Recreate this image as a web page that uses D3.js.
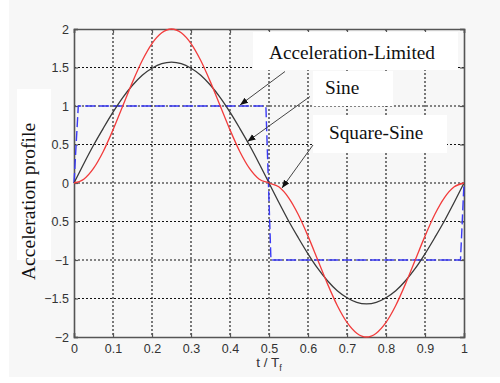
<!DOCTYPE html>
<html>
<head>
<meta charset="utf-8">
<script src="https://cdn.jsdelivr.net/npm/d3@7"></script>
<style>
  body { margin: 0; background: #fff; }
  svg { display: block; }
</style>
</head>
<body>
<svg id="chart"></svg>
<script>
// sample times (t / Tf)
const tSamples = [0, 0.025, 0.05, 0.075, 0.1, 0.125, 0.15, 0.175, 0.2, 0.225, 0.25,
  0.275, 0.3, 0.325, 0.35, 0.375, 0.4, 0.425, 0.45, 0.475, 0.5,
  0.525, 0.55, 0.575, 0.6, 0.625, 0.65, 0.675, 0.7, 0.725, 0.75,
  0.775, 0.8, 0.825, 0.85, 0.875, 0.9, 0.925, 0.95, 0.975, 1];
// sine profile (black)
const sineVals = [0, 0.25, 0.49, 0.71, 0.92, 1.11, 1.27, 1.40, 1.49, 1.55, 1.57,
  1.55, 1.49, 1.40, 1.27, 1.11, 0.92, 0.71, 0.49, 0.25, 0,
  -0.25, -0.49, -0.71, -0.92, -1.11, -1.27, -1.40, -1.49, -1.55, -1.57,
  -1.55, -1.49, -1.40, -1.27, -1.11, -0.92, -0.71, -0.49, -0.25, 0];
// square-sine profile (red)
const sqSineVals = [0, 0.05, 0.19, 0.41, 0.69, 1.00, 1.31, 1.59, 1.81, 1.95, 2.00,
  1.95, 1.81, 1.59, 1.31, 1.00, 0.69, 0.41, 0.19, 0.05, 0,
  -0.05, -0.19, -0.41, -0.69, -1.00, -1.31, -1.59, -1.81, -1.95, -2.00,
  -1.95, -1.81, -1.59, -1.31, -1.00, -0.69, -0.41, -0.19, -0.05, 0];
// acceleration-limited profile (blue dashed)
const accLimT = [0, 0.011, 0.492, 0.505, 0.991, 1];
const accLimVals = [0, 1, 1, -1, -1, 0];

const xTicks = [0, 0.1, 0.2, 0.3, 0.4, 0.5, 0.6, 0.7, 0.8, 0.9, 1];
const yTicks = [-2, -1.5, -1, -0.5, 0, 0.5, 1, 1.5, 2];

const W = 500, H = 383;
const svg = d3.select("#chart").attr("width", W).attr("height", H);

// figure background (light grey, white strip left / bottom)
svg.append("rect").attr("x", 9).attr("y", 0).attr("width", W - 9).attr("height", 377)
  .attr("fill", "#f7f7f7");

const x = d3.scaleLinear().domain([0, 1]).range([74, 464]);
const y = d3.scaleLinear().domain([-2, 2]).range([337, 29]);

// grid
const grid = svg.append("g")
  .attr("stroke", "#111")
  .attr("stroke-width", 1.1)
  .attr("stroke-dasharray", "2,2");
grid.selectAll("line.gx").data(xTicks.slice(1, -1)).join("line")
  .attr("x1", d => x(d)).attr("x2", d => x(d))
  .attr("y1", y(2)).attr("y2", y(-2));
grid.selectAll("line.gy").data(yTicks.slice(1, -1)).join("line")
  .attr("x1", x(0)).attr("x2", x(1))
  .attr("y1", d => y(d)).attr("y2", d => y(d));

// axes (matlab style, ticks pointing in)
const axisColor = "#555";
const xAxis = svg.append("g").attr("transform", `translate(0,${y(-2)})`)
  .call(d3.axisBottom(x).tickValues(xTicks).tickSize(-4).tickPadding(7)
    .tickFormat(d3.format("")));
const xAxisTop = svg.append("g").attr("transform", `translate(0,${y(2)})`)
  .call(d3.axisTop(x).tickValues(xTicks).tickSize(-4).tickFormat(""));
const yAxis = svg.append("g").attr("transform", `translate(${x(0)},0)`)
  .call(d3.axisLeft(y).tickValues(yTicks).tickSize(-4).tickPadding(5)
    .tickFormat(d3.format("")));
const yAxisRight = svg.append("g").attr("transform", `translate(${x(1)},0)`)
  .call(d3.axisRight(y).tickValues(yTicks).tickSize(-4).tickFormat(""));

[xAxis, xAxisTop, yAxis, yAxisRight].forEach(g => {
  g.select(".domain").attr("stroke", axisColor).attr("stroke-width", 1.6);
  g.selectAll(".tick line").attr("stroke", axisColor).attr("stroke-width", 1.2);
  g.selectAll(".tick text")
    .attr("fill", "#333")
    .attr("font-family", "Liberation Sans, Arial, sans-serif")
    .attr("font-size", 12.5);
});

// curves
const line = d3.line().x(d => x(d[0])).y(d => y(d[1])).curve(d3.curveMonotoneX);

svg.append("path")
  .datum(accLimT.map((t, i) => [t, accLimVals[i]]))
  .attr("d", d3.line().x(d => x(d[0])).y(d => y(d[1])))
  .attr("fill", "none")
  .attr("stroke", "#3a3af5")
  .attr("stroke-width", 1.4)
  .attr("stroke-dasharray", "10,4");

svg.append("path")
  .datum(tSamples.map((t, i) => [t, sineVals[i]]))
  .attr("d", line)
  .attr("fill", "none")
  .attr("stroke", "#3a3a3a")
  .attr("stroke-width", 1.3);

svg.append("path")
  .datum(tSamples.map((t, i) => [t, sqSineVals[i]]))
  .attr("d", line)
  .attr("fill", "none")
  .attr("stroke", "#f23c3c")
  .attr("stroke-width", 1.3);

// annotations
const serif = "Liberation Serif, Times New Roman, serif";
const boxes = [
  { x0: 253, y0: 32, x1: 458, y1: 70, label: "Acceleration-Limited", tx: 269, ty: 59 },
  { x0: 313, y0: 71, x1: 393, y1: 106, label: "Sine", tx: 325, ty: 94 },
  { x0: 313, y0: 115, x1: 447, y1: 153, label: "Square-Sine", tx: 329, ty: 139 }
];
const ann = svg.append("g");
ann.selectAll("rect").data(boxes).join("rect")
  .attr("x", d => d.x0).attr("y", d => d.y0)
  .attr("width", d => d.x1 - d.x0).attr("height", d => d.y1 - d.y0)
  .attr("fill", "#fff");
ann.selectAll("text").data(boxes).join("text")
  .attr("x", d => d.tx).attr("y", d => d.ty)
  .attr("font-family", serif)
  .attr("font-size", 19.3)
  .attr("fill", "#111")
  .text(d => d.label);

svg.append("defs").append("marker")
  .attr("id", "arrow")
  .attr("viewBox", "0 0 10 10")
  .attr("refX", 10).attr("refY", 5)
  .attr("markerWidth", 8).attr("markerHeight", 8)
  .attr("markerUnits", "userSpaceOnUse")
  .attr("orient", "auto")
  .append("path").attr("d", "M0,1 L10,5 L0,9 Z").attr("fill", "#111");

const arrows = [
  [285, 71.5, 240, 105],
  [310, 96.5, 247.5, 141.5],
  [313, 145, 282, 188]
];
svg.append("g").selectAll("line").data(arrows).join("line")
  .attr("x1", d => d[0]).attr("y1", d => d[1])
  .attr("x2", d => d[2]).attr("y2", d => d[3])
  .attr("stroke", "#444").attr("stroke-width", 1)
  .attr("marker-end", "url(#arrow)");

// y label with white box
svg.append("rect").attr("x", 17).attr("y", 89).attr("width", 34).attr("height", 171)
  .attr("fill", "#fff");
svg.append("text")
  .attr("transform", "translate(35,201.5) rotate(-90)")
  .attr("text-anchor", "middle")
  .attr("font-family", serif)
  .attr("font-size", 19.6)
  .attr("fill", "#111")
  .text("Acceleration profile");

// x label
const xl = svg.append("text")
  .attr("x", x(0.5)).attr("y", 367)
  .attr("text-anchor", "middle")
  .attr("font-family", "Liberation Sans, Arial, sans-serif")
  .attr("font-size", 13.5)
  .attr("fill", "#333");
xl.append("tspan").text("t / T");
xl.append("tspan").attr("font-size", 9).attr("dy", 4).text("f");
</script>
</body>
</html>
